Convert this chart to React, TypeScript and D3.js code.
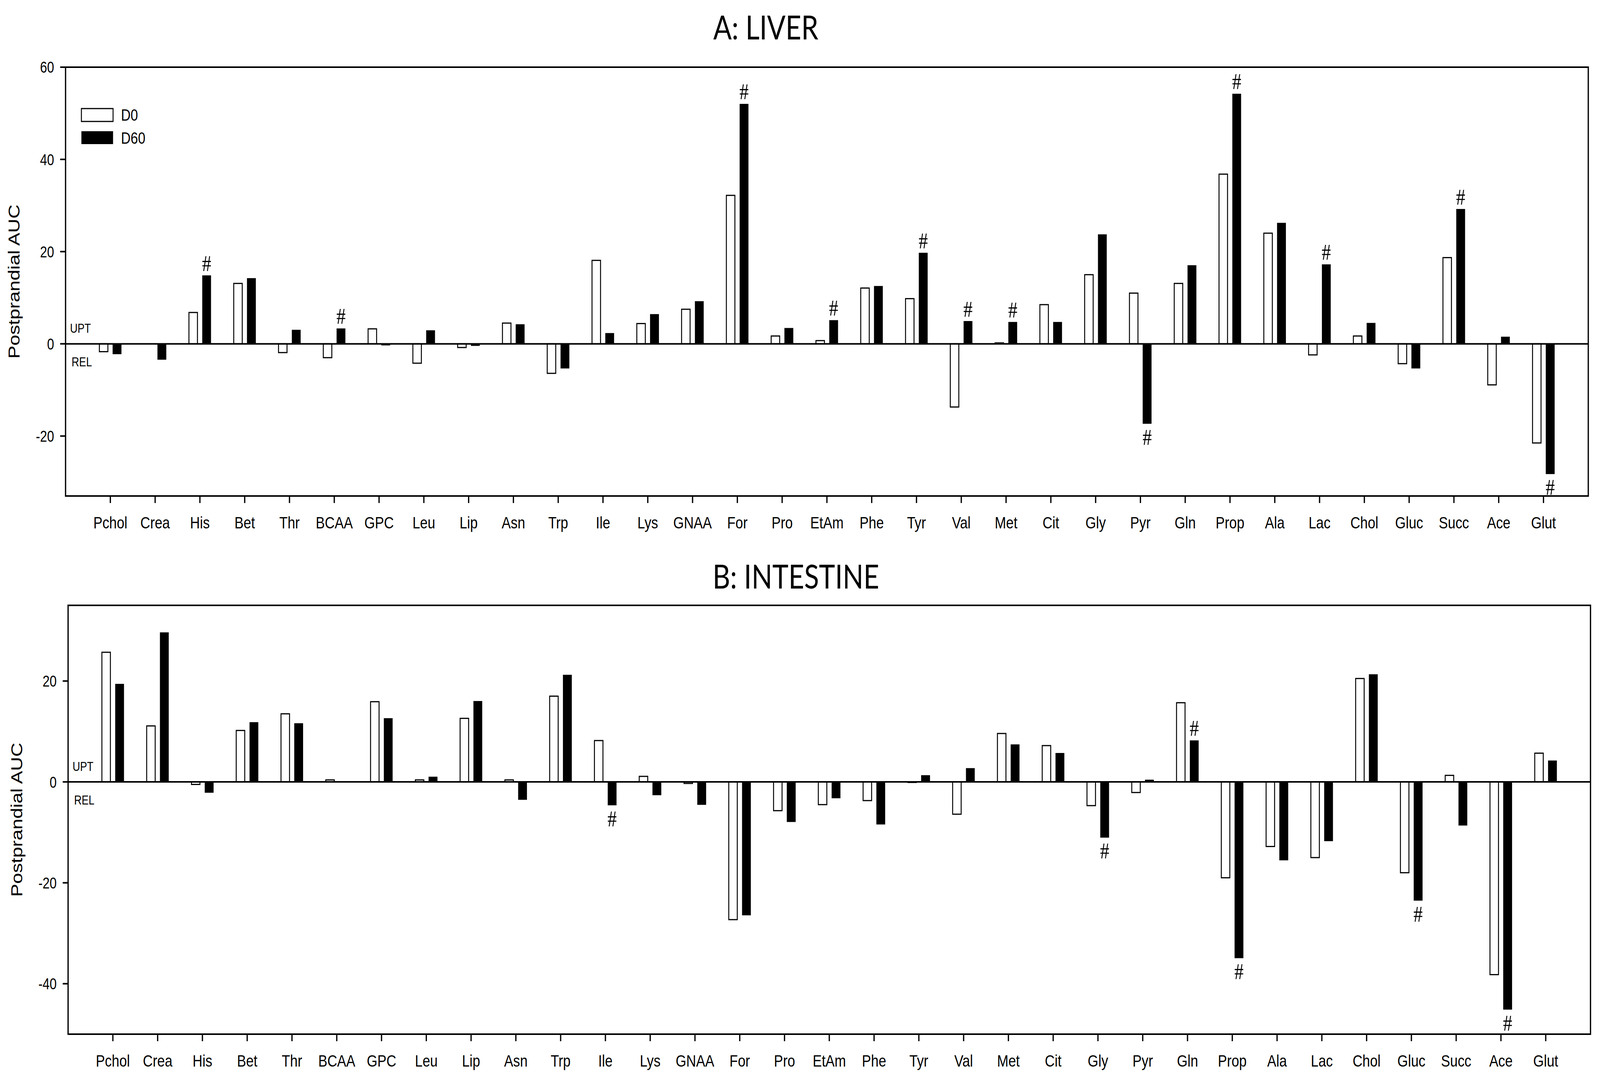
import * as d3 from 'd3';
import React from 'react';

// metabolites on the x axis (same order in both panels)
const metabolites = ['Pchol', 'Crea', 'His', 'Bet', 'Thr', 'BCAA', 'GPC', 'Leu', 'Lip', 'Asn', 'Trp', 'Ile', 'Lys', 'GNAA', 'For', 'Pro', 'EtAm', 'Phe', 'Tyr', 'Val', 'Met', 'Cit', 'Gly', 'Pyr', 'Gln', 'Prop', 'Ala', 'Lac', 'Chol', 'Gluc', 'Succ', 'Ace', 'Glut'];

const seriesNames = ['D0', 'D60'];

// A: liver
const liverD0 = [-1.7, 0, 6.8, 13.1, -1.9, -3.0, 3.25, -4.2, -0.8, 4.5, -6.4, 18.1, 4.4, 7.5, 32.2, 1.7, 0.7, 12.1, 9.8, -13.7, 0.2, 8.5, 15.0, 11.0, 13.1, 36.8, 24.0, -2.4, 1.7, -4.3, 18.7, -8.9, -21.5];
const liverD60 = [-2.2, -3.4, 14.8, 14.2, 3.0, 3.3, -0.3, 2.9, -0.4, 4.2, -5.3, 2.3, 6.4, 9.2, 52.0, 3.4, 5.1, 12.5, 19.7, 4.9, 4.7, 4.7, 23.7, -17.3, 17.0, 54.2, 26.2, 17.2, 4.5, -5.3, 29.2, 1.5, -28.2];
const liverMarked = ['His', 'BCAA', 'For', 'EtAm', 'Tyr', 'Val', 'Met', 'Pyr', 'Prop', 'Lac', 'Succ', 'Glut'];
const liverTicks = [60, 40, 20, 0, -20];

// B: intestine
const intestineD0 = [25.7, 11.1, -0.5, 10.2, 13.5, 0.4, 15.9, 0.4, 12.6, 0.4, 17.0, 8.2, 1.1, -0.3, -27.3, -5.7, -4.5, -3.7, -0.1, -6.4, 9.6, 7.2, -4.7, -2.1, 15.7, -19.0, -12.8, -15.0, 20.5, -18.0, 1.3, -38.2, 5.7];
const intestineD60 = [19.4, 29.6, -2.1, 11.8, 11.6, 0.1, 12.6, 1.0, 16.0, -3.5, 21.2, -4.6, -2.6, -4.5, -26.4, -7.9, -3.2, -8.4, 1.3, 2.7, 7.4, 5.7, -11.0, 0.4, 8.2, -34.9, -15.5, -11.7, 21.3, -23.5, -8.6, -45.1, 4.2];
const intestineMarked = ['Ile', 'Gly', 'Gln', 'Prop', 'Gluc', 'Ace'];
const intestineTicks = [20, 0, -20, -40];

const W = 5052, H = 2750;
const sans = "'Liberation Sans', Arial, sans-serif";

interface PanelProps {
    title: string;
    titleX: number;
    titleY: number;
    left: number;
    right: number;
    top: number;
    bottom: number;
    domain: [number, number];
    ticks: number[];
    d0: number[];
    d60: number[];
    marked: string[];
    legend?: boolean;
}

const Panel = (props: PanelProps) => {
    const { left, right, top, bottom } = props;

    const x = d3.scaleBand<string>()
        .domain(metabolites)
        .range([left, right])
        .paddingInner(0)
        .paddingOuter(0.5);
    const step = x.step();
    const cx = (c: string) => (x(c) as number) + step / 2;

    const y = d3.scaleLinear().domain(props.domain).range([bottom, top]);
    const y0 = y(0);

    const barW = step * 0.19;
    const off = step * 0.15;

    const bar = (v: number, c: string, k: number) => {
        const center = cx(c) + (k === 0 ? -off : off);
        const y1 = y(v);
        return <rect key={c + k}
            x={center - barW / 2}
            y={Math.min(y0, y1)}
            width={barW}
            height={Math.abs(y1 - y0)}
            fill={k === 0 ? '#fff' : '#000'}
            stroke="#000"
            strokeWidth={k === 0 ? 3 : 1} />;
    };

    return <g>
        <text x={props.titleX} y={props.titleY} textAnchor="middle" fontFamily="Lato, 'Open Sans', sans-serif" fontSize={86}>{props.title}</text>

        {/* bars */}
        {metabolites.map((c, i) => bar(props.d0[i], c, 0))}
        {metabolites.map((c, i) => bar(props.d60[i], c, 1))}

        {/* zero line */}
        <line x1={left} x2={right} y1={y0} y2={y0} stroke="#000" strokeWidth={4} />

        {/* frame */}
        <rect x={left} y={top} width={right - left} height={bottom - top} fill="none" stroke="#000" strokeWidth={4} />

        {/* y axis */}
        {props.ticks.map(t => <g key={t}>
            <line x1={left - 17} x2={left} y1={y(t)} y2={y(t)} stroke="#000" strokeWidth={4} />
            <text x={left - 36} y={y(t)} dy="0.36em" textAnchor="end" fontFamily={sans} fontSize={40}>{t}</text>
        </g>)}
        <text transform={`translate(${left - 145},${(top + bottom) / 2}) rotate(-90)`} textAnchor="middle" fontFamily={sans} fontSize={50}>Postprandial AUC</text>

        {/* x axis */}
        {metabolites.map(c => <g key={c}>
            <line x1={cx(c)} x2={cx(c)} y1={bottom} y2={bottom + 18} stroke="#000" strokeWidth={4} />
            <text x={cx(c)} y={bottom + 83} textAnchor="middle" fontFamily={sans} fontSize={43}>{c}</text>
        </g>)}

        <text x={left + 14} y={y0 - 28} fontFamily={sans} fontSize={33}>UPT</text>
        <text x={left + 19} y={y0 + 58} fontFamily={sans} fontSize={33}>REL</text>

        {/* significance marks on D60 bars */}
        {props.marked.map(c => {
            const v = props.d60[metabolites.indexOf(c)];
            const yy = v >= 0 ? y(v) - 12 : y(v) + 54;
            return <text key={c} x={cx(c) + off} y={yy} textAnchor="middle" fontFamily="'Liberation Serif', 'Times New Roman', serif" fontSize={58}>#</text>;
        })}

        {props.legend && <g>
            <rect x={257} y={278} width={100} height={33} fill="#fff" stroke="#000" strokeWidth={3} />
            <rect x={257} y={336} width={100} height={33} fill="#000" />
            <text x={382} y={309} fontFamily={sans} fontSize={42}>{seriesNames[0]}</text>
            <text x={382} y={368} fontFamily={sans} fontSize={42}>{seriesNames[1]}</text>
        </g>}
    </g>;
};

const App = () => {
    // fill the whole window so the picture lines up with the 5052x2750 frame
    return <svg viewBox={`0 0 ${W} ${H}`} preserveAspectRatio="none"
        style={{ position: 'absolute', left: 0, top: 0, width: '100vw', height: '100vh', display: 'block', background: '#fff' }}>
        <rect width={W} height={H} fill="#fff" />
        <Panel title="A: LIVER" titleX={2418} titleY={101}
            left={207} right={5015} top={172} bottom={1270}
            domain={[-33, 60]} ticks={liverTicks}
            d0={liverD0} d60={liverD60} marked={liverMarked} legend />
        <Panel title="B: INTESTINE" titleX={2513} titleY={1507}
            left={215} right={5022} top={1550} bottom={2648}
            domain={[-50, 35]} ticks={intestineTicks}
            d0={intestineD0} d60={intestineD60} marked={intestineMarked} />
    </svg>;
};

export default App;
